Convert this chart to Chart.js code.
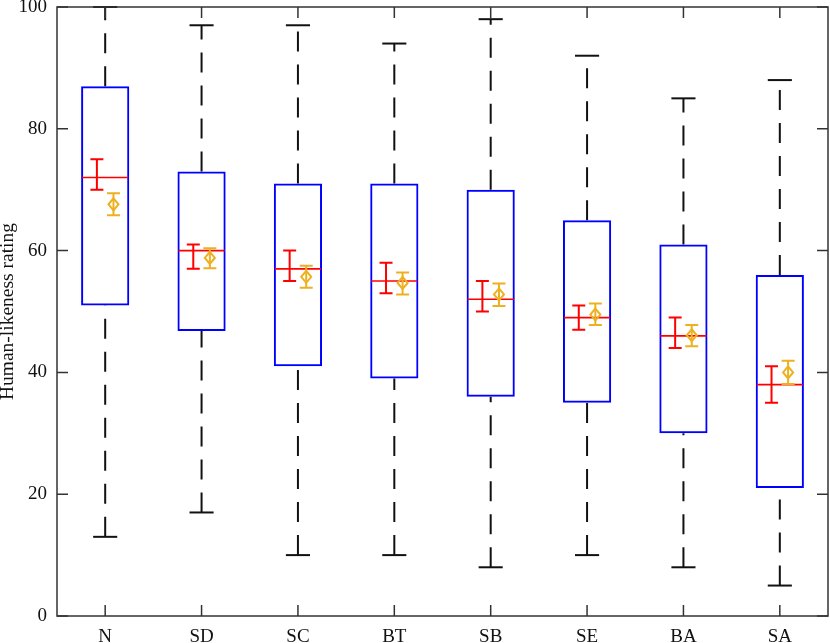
<!DOCTYPE html>
<html>
<head>
<meta charset="utf-8">
<script src="https://cdn.jsdelivr.net/npm/chart.js@4/dist/chart.umd.min.js"></script>
<style>
  html, body { margin: 0; padding: 0; background: #ffffff; }
  canvas { display: block; }
</style>
</head>
<body>
<canvas id="c" width="830" height="643"></canvas>
<script>
// ---- data ----
const categories   = ['N', 'SD', 'SC', 'BT', 'SB', 'SE', 'BA', 'SA'];
const whiskerLow   = [13, 17, 10, 10, 8, 10, 8, 5];
const q1           = [51, 46.8, 41, 39, 36, 35, 30, 21];
const medians      = [72, 60, 57, 55, 52, 49, 46, 38];
const q3           = [87, 73, 71, 71, 70, 65, 61, 56];
const whiskerHigh  = [100, 97, 97, 94, 98, 92, 85, 88];
const medianCiLow  = [70, 57, 55, 53, 50, 47, 44, 35];
const medianCiHigh = [75, 61, 60, 58, 55, 51, 49, 41];
const means        = [67.6, 58.8, 55.7, 54.7, 52.8, 49.5, 46.1, 40.0];
const meanCiLow    = [65.8, 57.1, 53.9, 52.8, 50.9, 47.8, 44.3, 38.1];
const meanCiHigh   = [69.4, 60.4, 57.5, 56.4, 54.6, 51.3, 47.8, 41.9];
const yTickValues  = [0, 20, 40, 60, 80, 100];
const yTitle = 'Human-likeness rating';

const FONT = "'Liberation Serif', 'DejaVu Serif', serif";
const BLUE = '#0000ff', RED = '#ff0000', ORANGE = '#EDB120', INK = '#111111', FRAME = '#333333';

const boxExtras = {
  id: 'boxExtras',
  beforeDatasetsDraw(chart) {
    const ctx = chart.ctx, xs = chart.scales.x, ys = chart.scales.y;
    const cw = xs.getPixelForValue(1) - xs.getPixelForValue(0);
    const capHalf = cw * 0.125;
    ctx.save();
    ctx.strokeStyle = INK;
    ctx.lineWidth = 2;
    categories.forEach((c, i) => {
      const x = xs.getPixelForValue(i);
      ctx.setLineDash([20, 13]);
      ctx.beginPath();
      ctx.moveTo(x, ys.getPixelForValue(q3[i]));
      ctx.lineTo(x, ys.getPixelForValue(whiskerHigh[i]));
      ctx.stroke();
      ctx.beginPath();
      ctx.moveTo(x, ys.getPixelForValue(whiskerLow[i]));
      ctx.lineTo(x, ys.getPixelForValue(q1[i]));
      ctx.stroke();
      ctx.setLineDash([]);
      [whiskerHigh[i], whiskerLow[i]].forEach(v => {
        const y = ys.getPixelForValue(v);
        ctx.beginPath();
        ctx.moveTo(x - capHalf, y);
        ctx.lineTo(x + capHalf, y);
        ctx.stroke();
      });
    });
    ctx.restore();
  },
  afterDatasetsDraw(chart) {
    const ctx = chart.ctx, xs = chart.scales.x, ys = chart.scales.y;
    const area = chart.chartArea;
    const cw = xs.getPixelForValue(1) - xs.getPixelForValue(0);
    const boxHalf = cw * 0.25;
    const off = cw * 0.086;
    const ebHalf = 6.5;
    ctx.save();
    categories.forEach((c, i) => {
      const x = xs.getPixelForValue(i);
      const ym = ys.getPixelForValue(medians[i]);
      ctx.strokeStyle = RED;
      ctx.lineWidth = 1.6;
      ctx.beginPath();
      ctx.moveTo(x - boxHalf + 1, ym);
      ctx.lineTo(x + boxHalf - 1, ym);
      ctx.stroke();
      const xr = x - off;
      const yl = ys.getPixelForValue(medianCiLow[i]), yh = ys.getPixelForValue(medianCiHigh[i]);
      ctx.lineWidth = 2;
      ctx.beginPath();
      ctx.moveTo(xr, yl); ctx.lineTo(xr, yh);
      ctx.moveTo(xr - ebHalf, yl); ctx.lineTo(xr + ebHalf, yl);
      ctx.moveTo(xr - ebHalf, yh); ctx.lineTo(xr + ebHalf, yh);
      ctx.stroke();
      const xo = x + off;
      const ml = ys.getPixelForValue(meanCiLow[i]), mh = ys.getPixelForValue(meanCiHigh[i]);
      const my = ys.getPixelForValue(means[i]);
      ctx.strokeStyle = ORANGE;
      ctx.lineWidth = 2;
      ctx.beginPath();
      ctx.moveTo(xo, ml); ctx.lineTo(xo, mh);
      ctx.moveTo(xo - ebHalf, ml); ctx.lineTo(xo + ebHalf, ml);
      ctx.moveTo(xo - ebHalf, mh); ctx.lineTo(xo + ebHalf, mh);
      ctx.stroke();
      ctx.beginPath();
      ctx.moveTo(xo, my - 6);
      ctx.lineTo(xo + 5, my);
      ctx.lineTo(xo, my + 6);
      ctx.lineTo(xo - 5, my);
      ctx.closePath();
      ctx.stroke();
    });
    ctx.strokeStyle = FRAME;
    ctx.lineWidth = 1.5;
    ctx.strokeRect(area.left, area.top, area.right - area.left, area.bottom - area.top);
    const tl = 11;
    ctx.beginPath();
    categories.forEach((c, i) => {
      const x = xs.getPixelForValue(i);
      ctx.moveTo(x, area.bottom); ctx.lineTo(x, area.bottom - tl);
      ctx.moveTo(x, area.top); ctx.lineTo(x, area.top + tl);
    });
    yTickValues.forEach(v => {
      const y = ys.getPixelForValue(v);
      ctx.moveTo(area.left, y); ctx.lineTo(area.left + tl, y);
      ctx.moveTo(area.right, y); ctx.lineTo(area.right - tl, y);
    });
    ctx.stroke();
    ctx.restore();
  }
};

const boxRanges = categories.map((c, i) => [q1[i], q3[i]]);

new Chart(document.getElementById('c'), {
  type: 'bar',
  data: {
    labels: categories,
    datasets: [{
      data: boxRanges,
      backgroundColor: 'rgba(0,0,0,0)',
      borderColor: BLUE,
      borderWidth: 2,
      borderSkipped: false,
      barPercentage: 0.5,
      categoryPercentage: 1.0
    }]
  },
  options: {
    responsive: false,
    devicePixelRatio: 1,
    animation: false,
    events: [],
    layout: { padding: { top: 7, right: 2, left: 0, bottom: 0 } },
    plugins: { legend: { display: false }, tooltip: { enabled: false } },
    scales: {
      x: {
        type: 'category',
        offset: true,
        grid: { display: false },
        border: { display: false },
        ticks: { color: '#111', font: { family: FONT, size: 19 }, padding: 2, maxRotation: 0 },
        afterFit(s) { s.height = 27; s.paddingLeft = 0; s.paddingRight = 0; }
      },
      y: {
        min: 0, max: 100,
        grid: { display: false },
        border: { display: false },
        ticks: { stepSize: 20, color: '#111', font: { family: FONT, size: 19 }, padding: 2 },
        title: { display: true, text: yTitle, color: '#111', font: { family: FONT, size: 19.5 }, padding: { top: -4, bottom: 0 } },
        afterFit(s) { s.width = 57; s.paddingTop = 0; s.paddingBottom = 0; }
      }
    }
  },
  plugins: [boxExtras]
});
</script>
</body>
</html>
